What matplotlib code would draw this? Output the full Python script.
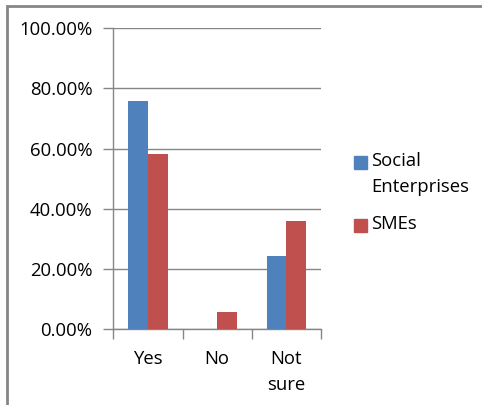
import numpy as np
import matplotlib
matplotlib.use("Agg")
import matplotlib.pyplot as plt
from matplotlib.patches import Rectangle
from matplotlib.ticker import PercentFormatter

categories = ["Yes", "No", "Not\nsure"]
social_enterprises = [75.8, 0.0, 24.2]
smes = [58.3, 5.6, 36.1]
series_names = ["Social\nEnterprises", "SMEs"]
colors = ["#4F81BD", "#C0504D"]
yticks = [0, 20, 40, 60, 80, 100]

plt.rcParams['font.family'] = ['Open Sans', 'DejaVu Sans']
grey = "#868686"
fs = 13.3

fig = plt.figure(figsize=(4.82, 4.05), dpi=100)
ax = fig.add_axes([113.3/482, 75.7/405, 207.7/482, 301/405])

x = np.arange(len(categories))
w = 0.285
ax.bar(x - w/2, social_enterprises, w, color=colors[0], zorder=3)
ax.bar(x + w/2, smes, w, color=colors[1], zorder=3)

ax.set_xlim(-0.5, len(categories) - 0.5)
ax.set_ylim(0, 100)
ax.set_yticks(yticks)
ax.yaxis.set_major_formatter(PercentFormatter(decimals=2))
ax.grid(axis='y', color=grey, lw=1, zorder=0)
ax.set_axisbelow(True)

ax.set_xticks(np.arange(-0.5, len(categories), 1.0))
ax.set_xticklabels([])
ax.set_xticks(x, minor=True)
ax.set_xticklabels(categories, minor=True, fontsize=fs, linespacing=1.55, va='top')
ax.tick_params(axis='x', which='major', direction='out', length=7, color=grey, width=1)
ax.tick_params(axis='x', which='minor', length=0, pad=15)
ax.tick_params(axis='y', direction='out', length=7, color=grey, width=1, labelsize=fs, pad=8)

for s in ['top', 'right']:
    ax.spines[s].set_visible(False)
for s in ['left', 'bottom']:
    ax.spines[s].set_color(grey)
    ax.spines[s].set_linewidth(1)

# legend drawn by hand so the square sits beside the first line
ly = [162, 225]
for name, c, yy in zip(series_names, colors, ly):
    fig.patches.append(Rectangle((354/482, (405 - yy - 6.5)/405), 13/482, 13/405,
                                 transform=fig.transFigure, color=c))
    fig.text(371/482, (405 - yy + 10)/405, name, fontsize=fs, va='top', ha='left',
             linespacing=1.55)

# outer chart border
fig.patches.append(Rectangle((7/482, -0.1), 1.2, (405 - 5 + 40)/405,
                             transform=fig.transFigure, fill=False,
                             edgecolor=grey, lw=2))

fig.savefig("out.png", dpi=100)
